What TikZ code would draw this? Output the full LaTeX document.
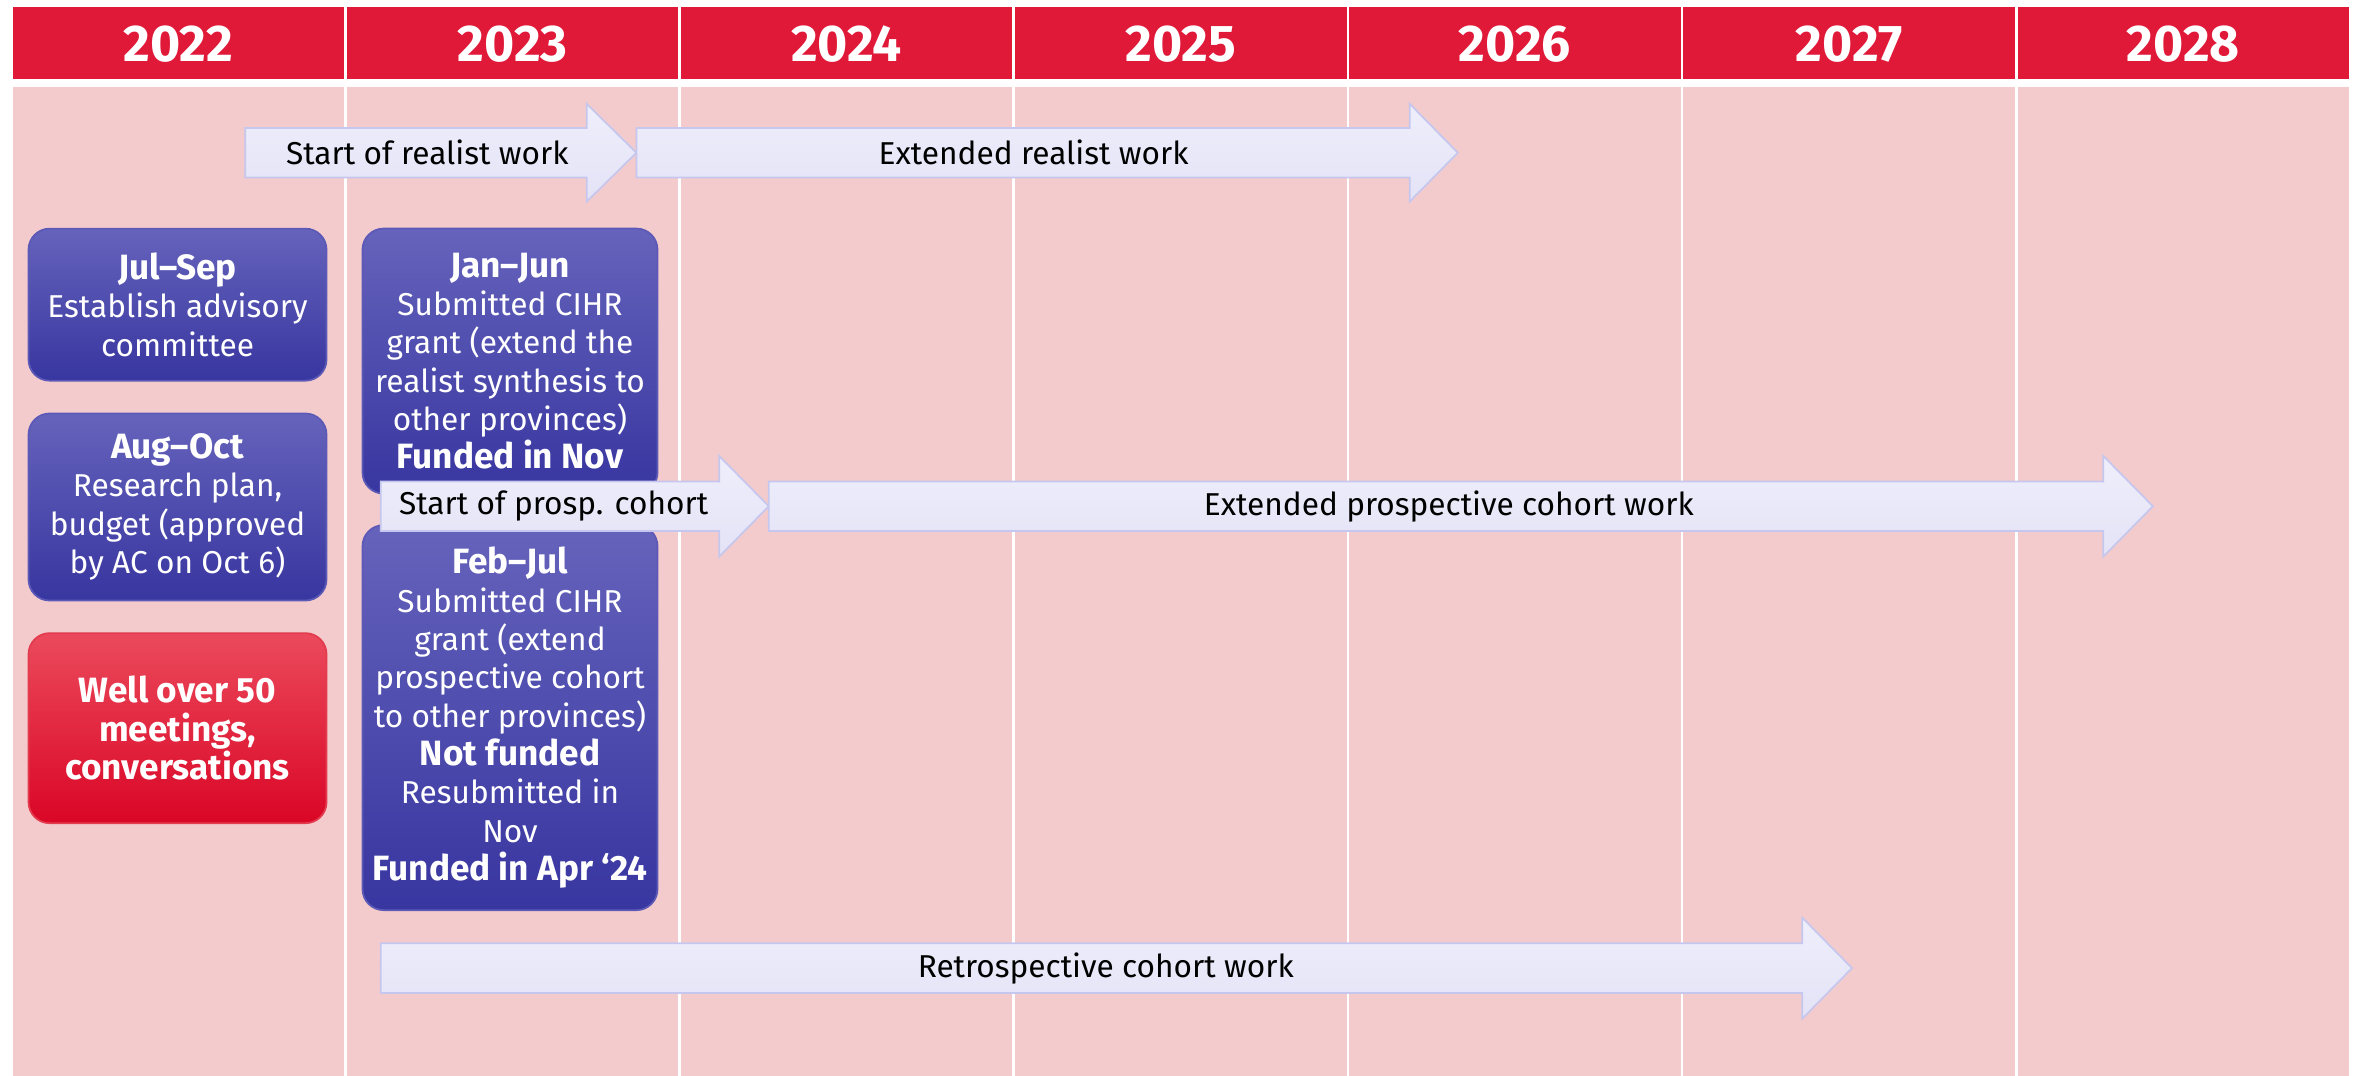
\documentclass[tikz,border=0pt]{standalone}
\usepackage{fontspec}
\setmainfont{Fira Sans}

\definecolor{yearred}{RGB}{225,25,57}
\definecolor{lanepink}{RGB}{243,203,204}
\definecolor{boxtop}{RGB}{101,99,187}
\definecolor{boxbot}{RGB}{56,54,160}
\definecolor{boxline}{RGB}{92,90,182}
\definecolor{hottop}{RGB}{235,74,92}
\definecolor{hotbot}{RGB}{218,6,38}
\definecolor{hotline}{RGB}{226,60,78}
\definecolor{arrowtop}{RGB}{239,238,251}
\definecolor{arrowbot}{RGB}{228,227,247}
\definecolor{arrowline}{RGB}{198,199,238}

\newcommand{\boxhead}[1]{{\fontsize{10}{10.9}\selectfont\bfseries #1}}

\tikzset{
  yearlabel/.style={text=white, font=\fontsize{14.7}{17}\selectfont\bfseries},
  milestone/.style={rounded corners=2.1mm, top color=boxtop, bottom color=boxbot,
    draw=boxline, line width=0.5pt, text=white, align=center, inner sep=0pt,
    font=\fontsize{9}{10.9}\selectfont},
  hotbox/.style={milestone, top color=hottop, bottom color=hotbot, draw=hotline},
  timearrow/.style={top color=arrowtop, bottom color=arrowbot, draw=arrowline, line width=0.5pt},
  arrowtext/.style={font=\fontsize{9}{11}\selectfont, inner sep=0pt},
}

\begin{document}
\begin{tikzpicture}[x=0.15045mm, y=-0.15045mm]
  \useasboundingbox (0,0) rectangle (1568,715);
  % year header and lanes
  \foreach \yr [count=\i from 0] in {2022,...,2028} {
    \fill[yearred] ({7.5+222.1*\i+0.9},4.4) rectangle ({7.5+222.1*(\i+1)-0.9},52.6);
    \node[yearlabel] (y\yr) at ({7.5+222.1*(\i+0.5)},29.5) {\yr};
    \fill[lanepink] ({7.5+222.1*\i+0.9},58) rectangle ({7.5+222.1*(\i+1)-0.9},715);
  }
  % 2022 boxes
  \node[milestone, minimum width=29.8mm, minimum height=15.2mm] (julsep) at (118,202.5)
    {\boxhead{Jul–Sep}\\Establish advisory\\committee};
  \node[milestone, minimum width=29.8mm, minimum height=18.7mm] (augoct) at (118,337)
    {\boxhead{Aug–Oct}\\Research plan,\\budget (approved\\by AC on Oct 6)};
  \node[hotbox, minimum width=29.8mm, minimum height=19mm] (meetings) at (118,484)
    {\boxhead{Well over 50}\\\boxhead{meetings,}\\\boxhead{conversations}};
  % 2023 boxes
  \node[milestone, minimum width=29.5mm, minimum height=26.5mm] (janjun) at (339,240)
    {\boxhead{Jan–Jun}\\Submitted CIHR\\grant (extend the\\realist synthesis to\\other provinces)\\\boxhead{Funded in Nov}};
  \node[milestone, minimum width=29.5mm, minimum height=38.5mm] (febjul) at (339,477)
    {\boxhead{Feb–Jul}\\Submitted CIHR\\grant (extend\\prospective cohort\\to other provinces)\\\boxhead{Not funded}\\Resubmitted in\\Nov\\\boxhead{Funded in Apr ‘24}};
  % work streams
  \draw[timearrow] (163,85) -- (390,85) -- (390,69) -- (423,101.5) -- (390,134) -- (390,118) -- (163,118) -- cycle;
  \node[arrowtext] (realiststart) at (284,101.5) {Start of realist work};
  \draw[timearrow] (423,85) -- (937,85) -- (937,69) -- (969,101.5) -- (937,134) -- (937,118) -- (423,118) -- cycle;
  \node[arrowtext] (realistext) at (687,101.5) {Extended realist work};
  \draw[timearrow] (253,320) -- (478,320) -- (478,303) -- (511,336.5) -- (478,370) -- (478,353) -- (253,353) -- cycle;
  \node[arrowtext] (prospstart) at (368,336.5) {Start of prosp. cohort};
  \draw[timearrow] (511,320) -- (1398,320) -- (1398,303) -- (1431,336.5) -- (1398,370) -- (1398,353) -- (511,353) -- cycle;
  \node[arrowtext] (prospext) at (963,336.5) {Extended prospective cohort work};
  \draw[timearrow] (253,627) -- (1198,627) -- (1198,610) -- (1231,643.5) -- (1198,677) -- (1198,660) -- (253,660) -- cycle;
  \node[arrowtext] (retro) at (735,643.5) {Retrospective cohort work};
\end{tikzpicture}
\end{document}
